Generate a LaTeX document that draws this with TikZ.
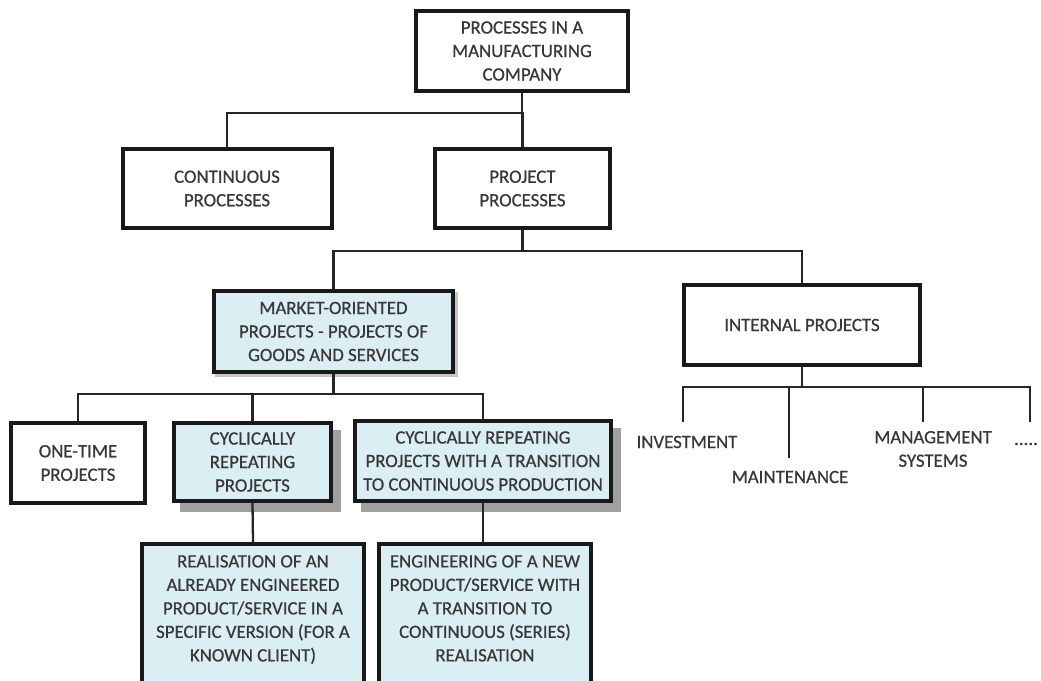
\documentclass[tikz,border=0pt]{standalone}
\usepackage{fontspec}
\setmainfont{Carlito}[UprightFeatures={FakeBold=0.6}]
\begin{document}
\definecolor{boxfill}{HTML}{DAEEF3}
\definecolor{ink}{HTML}{383838}
\definecolor{shade}{HTML}{A0A0A0}
\begin{tikzpicture}[x=1pt,y=-1pt,
  every node/.style={font=\fontsize{18.8}{23.5}\selectfont, text=ink, align=center},
  box/.style={draw=black!90, line width=4pt, fill=white, inner sep=2pt},
  bluebox/.style={box, fill=boxfill},
  shadowed/.style={preaction={draw=shade, fill=shade, line width=4pt,
    transform canvas={xshift=8pt, yshift=-9pt}}},
  softshadow/.style={preaction={draw=shade!60, fill=shade!60, line width=4pt,
    transform canvas={xshift=3pt, yshift=-3pt}}},
  conn/.style={draw=black!85, line width=2.3pt},
  lbl/.style={inner sep=0pt}]
\clip (0,0) rectangle (1041,680);
\fill[white] (0,0) rectangle (1041,680);

% level 0
\node[box, minimum width=212, minimum height=80] (top) at (522,51)
  {PROCESSES IN A\\MANUFACTURING\\COMPANY};

% level 1
\node[box, minimum width=209, minimum height=79] (cont) at (227,188.5)
  {CONTINUOUS\\PROCESSES};
\node[box, minimum width=175, minimum height=79] (proj) at (522.5,188.5)
  {PROJECT\\PROCESSES};

% level 2
\node[bluebox, softshadow, minimum width=239, minimum height=81] (market) at (333.5,331.5)
  {MARKET-ORIENTED\\PROJECTS - PROJECTS OF\\GOODS AND SERVICES};
\node[box, minimum width=236, minimum height=80] (internal) at (802,325)
  {INTERNAL PROJECTS};

% level 3, market-oriented branch
\node[box, minimum width=134, minimum height=80] (onetime) at (78,463)
  {ONE-TIME\\PROJECTS};
\node[bluebox, shadowed, minimum width=157, minimum height=78] (cyc) at (252.5,462)
  {CYCLICALLY\\REPEATING\\PROJECTS};
\node[bluebox, shadowed, minimum width=256, minimum height=80] (trans) at (483,461)
  {CYCLICALLY REPEATING\\PROJECTS WITH A TRANSITION\\TO CONTINUOUS PRODUCTION};

% level 4
\node[bluebox, minimum width=222, minimum height=160] (real) at (253,624) {};
\node[bluebox, minimum width=212, minimum height=160] (eng) at (485,624) {};
\node[lbl, anchor=north] (realtxt) at (253,555)
  {REALISATION OF AN\\ALREADY ENGINEERED\\PRODUCT/SERVICE IN A\\SPECIFIC VERSION (FOR A\\KNOWN CLIENT)};
\node[lbl, anchor=north] (engtxt) at (485,555)
  {ENGINEERING OF A NEW\\PRODUCT/SERVICE WITH\\A TRANSITION TO\\CONTINUOUS (SERIES)\\REALISATION};

% internal projects branch: plain labels
\node[lbl] (inv) at (687,442) {INVESTMENT};
\node[lbl] (maint) at (790,477) {MAINTENANCE};
\node[lbl] (mgmt) at (933,449) {MANAGEMENT\\SYSTEMS};
\node[lbl] (more) at (1026,444) {.....};

% bus levels
\coordinate (bus0) at (0,113);
\coordinate (bus1) at (0,251);
\coordinate (bus2) at (0,394);
\coordinate (bus3) at (0,387);
\coordinate (legA) at (683,422);
\coordinate (legB) at (789,458);
\coordinate (legC) at (923,422);
\coordinate (legD) at (1030,422);

% connectors
\draw[conn] (top.south) -- (top.south |- bus0);
\draw[conn] (cont.north) |- (proj.north |- bus0) -- (proj.north);

\draw[conn] (proj.south) -- (proj.south |- bus1);
\draw[conn] (market.north) |- (internal.north |- bus1) -- (internal.north);

\draw[conn] (market.south) -- (market.south |- bus2);
\draw[conn] (onetime.north) |- (trans.north |- bus2) -- (trans.north);
\draw[conn] (cyc.north) -- (cyc.north |- bus2);

\draw[conn] (cyc.south) -- (real.north);
\draw[conn] (trans.south) -- (trans.south |- eng.north);

\draw[conn] (internal.south) -- (internal.south |- bus3);
\draw[conn] (legA) |- (legD |- bus3) -- (legD);
\draw[conn] (legB) -- (legB |- bus3);
\draw[conn] (legC) -- (legC |- bus3);
\end{tikzpicture}
\end{document}
